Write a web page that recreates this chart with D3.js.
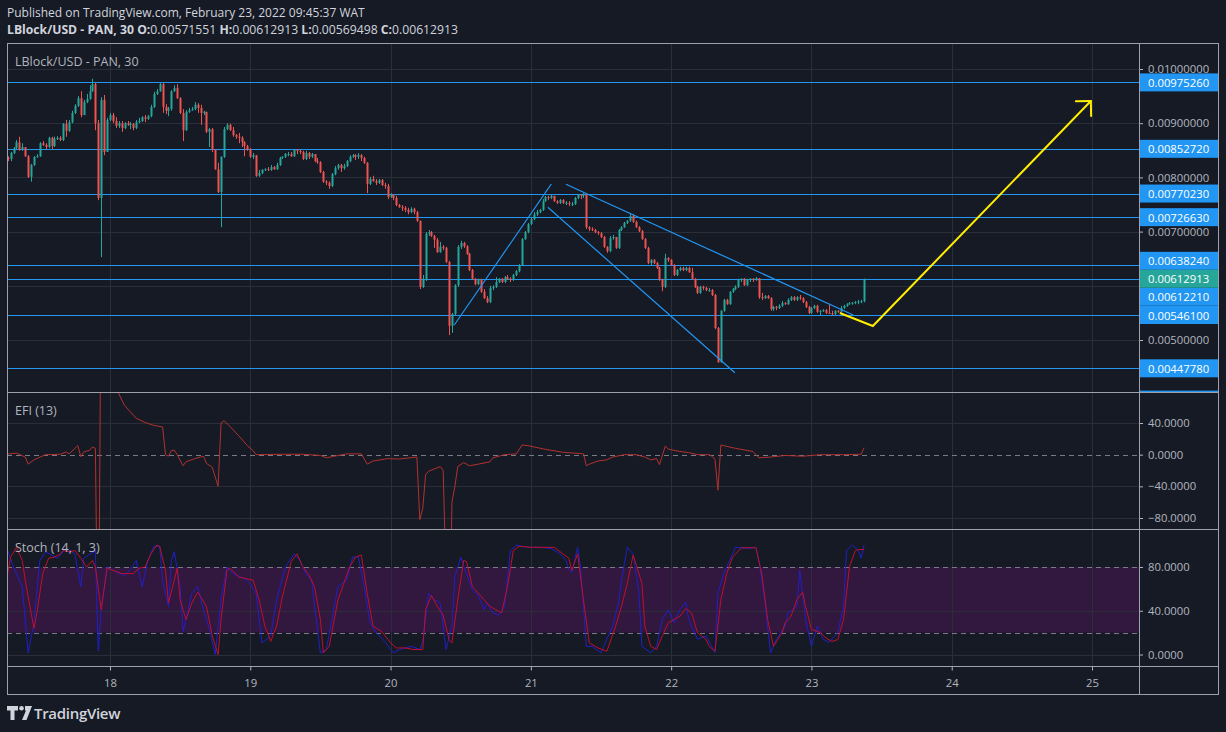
<!DOCTYPE html>
<html><head><meta charset="utf-8">
<script src="https://cdn.jsdelivr.net/npm/d3@7"></script>
<style>
html,body{margin:0;padding:0;background:#161a25;}
svg{display:block;}
text{font-family:"Open Sans","Noto Sans",sans-serif;}
</style></head><body>
<svg id="c" width="1226" height="732"></svg>
<script>
// ---------- DATA ----------
const candleStart = Date.UTC(2022, 1, 17, 6, 30); // first 30-min candle
const candleMinutes = 30;
const firstOpen = 0.00836;
const close = [
0.00834,0.00845,0.00854,0.00865,0.00851,0.00856,0.00839,0.00801,0.00823,0.00838,
0.00839,0.00863,0.00860,0.00856,0.00873,0.00858,0.00871,0.00873,0.00869,0.00899,
0.00886,0.00902,0.00919,0.00932,0.00946,0.00915,0.00939,0.00945,0.00959,0.00972,
0.00900,0.00762,0.00943,0.00847,0.00906,0.00915,0.00904,0.00895,0.00900,0.00891,
0.00900,0.00897,0.00899,0.00891,0.00902,0.00904,0.00911,0.00908,0.00913,0.00930,
0.00954,0.00959,0.00972,0.00930,0.00923,0.00926,0.00959,0.00965,0.00946,0.00919,
0.00887,0.00921,0.00924,0.00926,0.00934,0.00928,0.00919,0.00921,0.00884,0.00889,
0.00851,0.00815,0.00773,0.00838,0.00889,0.00897,0.00887,0.00878,0.00875,0.00873,
0.00865,0.00858,0.00852,0.00838,0.00841,0.00803,0.00808,0.00814,0.00815,0.00814,
0.00819,0.00815,0.00823,0.00836,0.00838,0.00843,0.00843,0.00839,0.00851,0.00849,
0.00847,0.00834,0.00845,0.00838,0.00843,0.00830,0.00828,0.00810,0.00792,0.00790,
0.00784,0.00806,0.00817,0.00823,0.00817,0.00821,0.00830,0.00838,0.00841,0.00838,
0.00841,0.00836,0.00827,0.00788,0.00797,0.00793,0.00790,0.00795,0.00786,0.00784,
0.00764,0.00768,0.00762,0.00749,0.00745,0.00744,0.00740,0.00736,0.00742,0.00736,
0.00720,0.00598,0.00611,0.00696,0.00699,0.00692,0.00685,0.00662,0.00672,0.00670,
0.00644,0.00526,0.00548,0.00601,0.00672,0.00679,0.00673,0.00659,0.00629,0.00613,
0.00603,0.00611,0.00589,0.00577,0.00570,0.00596,0.00598,0.00607,0.00613,0.00607,
0.00616,0.00613,0.00611,0.00620,0.00627,0.00638,0.00686,0.00699,0.00714,0.00723,
0.00732,0.00736,0.00740,0.00756,0.00764,0.00762,0.00766,0.00756,0.00753,0.00758,
0.00753,0.00753,0.00751,0.00751,0.00762,0.00768,0.00766,0.00769,0.00708,0.00705,
0.00703,0.00699,0.00697,0.00690,0.00672,0.00664,0.00688,0.00690,0.00670,0.00703,
0.00708,0.00716,0.00720,0.00729,0.00718,0.00708,0.00701,0.00686,0.00670,0.00642,
0.00648,0.00642,0.00633,0.00611,0.00598,0.00651,0.00648,0.00638,0.00620,0.00629,
0.00633,0.00629,0.00633,0.00625,0.00613,0.00598,0.00587,0.00598,0.00596,0.00592,
0.00592,0.00583,0.00522,0.00459,0.00554,0.00574,0.00566,0.00589,0.00594,0.00598,
0.00611,0.00613,0.00601,0.00611,0.00613,0.00611,0.00614,0.00579,0.00577,0.00581,
0.00577,0.00557,0.00561,0.00559,0.00563,0.00568,0.00566,0.00574,0.00579,0.00574,
0.00579,0.00577,0.00570,0.00561,0.00550,0.00559,0.00563,0.00552,0.00554,0.00555,
0.00550,0.00549,0.00548,0.00554,0.00552,0.00559,0.00563,0.00566,0.00568,0.00569,
0.00570,0.00571,0.00571551,0.00612913];
const high = [
0.00839,0.00847,0.00856,0.00869,0.00875,0.00863,0.00856,0.00841,0.00825,0.00839,
0.00843,0.00865,0.00867,0.00863,0.00875,0.00875,0.00875,0.00876,0.00876,0.00900,
0.00906,0.00906,0.00923,0.00935,0.00950,0.00959,0.00943,0.00954,0.00970,0.00982,
0.00974,0.00906,0.00948,0.00952,0.00910,0.00919,0.00919,0.00911,0.00904,0.00904,
0.00902,0.00904,0.00902,0.00900,0.00906,0.00910,0.00913,0.00915,0.00915,0.00934,
0.00958,0.00963,0.00974,0.00974,0.00935,0.00930,0.00961,0.00970,0.00972,0.00948,
0.00926,0.00924,0.00928,0.00930,0.00939,0.00937,0.00934,0.00923,0.00921,0.00891,
0.00891,0.00852,0.00827,0.00839,0.00893,0.00900,0.00899,0.00893,0.00880,0.00882,
0.00876,0.00867,0.00860,0.00854,0.00845,0.00841,0.00814,0.00815,0.00817,0.00819,
0.00823,0.00821,0.00827,0.00838,0.00839,0.00845,0.00847,0.00847,0.00852,0.00852,
0.00851,0.00849,0.00849,0.00847,0.00845,0.00843,0.00836,0.00830,0.00812,0.00795,
0.00793,0.00808,0.00821,0.00825,0.00825,0.00825,0.00832,0.00841,0.00843,0.00843,
0.00845,0.00843,0.00838,0.00828,0.00801,0.00803,0.00797,0.00797,0.00797,0.00790,
0.00788,0.00771,0.00769,0.00766,0.00751,0.00749,0.00747,0.00744,0.00745,0.00744,
0.00738,0.00720,0.00620,0.00699,0.00703,0.00701,0.00694,0.00688,0.00681,0.00675,
0.00672,0.00646,0.00550,0.00603,0.00675,0.00683,0.00681,0.00675,0.00661,0.00631,
0.00614,0.00613,0.00613,0.00594,0.00581,0.00600,0.00601,0.00616,0.00614,0.00614,
0.00618,0.00620,0.00616,0.00622,0.00629,0.00640,0.00688,0.00701,0.00716,0.00727,
0.00736,0.00740,0.00742,0.00760,0.00766,0.00766,0.00768,0.00766,0.00758,0.00760,
0.00760,0.00756,0.00756,0.00755,0.00764,0.00769,0.00768,0.00771,0.00769,0.00710,
0.00708,0.00705,0.00701,0.00699,0.00692,0.00673,0.00692,0.00694,0.00690,0.00705,
0.00710,0.00718,0.00721,0.00734,0.00732,0.00720,0.00710,0.00703,0.00688,0.00672,
0.00649,0.00649,0.00644,0.00635,0.00613,0.00659,0.00653,0.00649,0.00640,0.00631,
0.00635,0.00635,0.00635,0.00635,0.00633,0.00614,0.00600,0.00600,0.00600,0.00598,
0.00596,0.00594,0.00585,0.00524,0.00555,0.00576,0.00576,0.00590,0.00596,0.00601,
0.00613,0.00614,0.00614,0.00613,0.00614,0.00614,0.00616,0.00614,0.00587,0.00583,
0.00583,0.00579,0.00563,0.00563,0.00566,0.00572,0.00570,0.00577,0.00581,0.00581,
0.00581,0.00583,0.00579,0.00572,0.00563,0.00561,0.00565,0.00565,0.00555,0.00557,
0.00557,0.00565,0.00554,0.00555,0.00555,0.00563,0.00565,0.00568,0.00570,0.00570,
0.00572,0.00574,0.00574,0.00612913];
const low = [
0.00830,0.00830,0.00843,0.00852,0.00849,0.00849,0.00838,0.00799,0.00792,0.00821,
0.00836,0.00838,0.00858,0.00852,0.00854,0.00852,0.00856,0.00869,0.00867,0.00867,
0.00875,0.00884,0.00900,0.00917,0.00930,0.00911,0.00915,0.00937,0.00943,0.00958,
0.00887,0.00758,0.00653,0.00841,0.00847,0.00904,0.00900,0.00891,0.00891,0.00884,
0.00889,0.00895,0.00889,0.00887,0.00889,0.00900,0.00902,0.00902,0.00906,0.00911,
0.00928,0.00952,0.00958,0.00919,0.00917,0.00913,0.00923,0.00958,0.00945,0.00917,
0.00867,0.00886,0.00919,0.00923,0.00924,0.00919,0.00897,0.00915,0.00882,0.00856,
0.00847,0.00814,0.00771,0.00708,0.00836,0.00887,0.00886,0.00875,0.00871,0.00863,
0.00856,0.00839,0.00849,0.00836,0.00834,0.00801,0.00801,0.00806,0.00812,0.00812,
0.00812,0.00814,0.00814,0.00821,0.00834,0.00836,0.00839,0.00838,0.00838,0.00843,
0.00843,0.00832,0.00832,0.00834,0.00836,0.00828,0.00825,0.00808,0.00790,0.00786,
0.00779,0.00782,0.00804,0.00814,0.00810,0.00814,0.00819,0.00828,0.00836,0.00832,
0.00834,0.00830,0.00825,0.00771,0.00786,0.00792,0.00786,0.00788,0.00784,0.00779,
0.00760,0.00762,0.00758,0.00747,0.00744,0.00738,0.00736,0.00732,0.00734,0.00732,
0.00718,0.00594,0.00596,0.00609,0.00692,0.00690,0.00670,0.00661,0.00661,0.00666,
0.00642,0.00509,0.00513,0.00546,0.00598,0.00668,0.00670,0.00657,0.00627,0.00611,
0.00601,0.00601,0.00587,0.00576,0.00568,0.00568,0.00592,0.00596,0.00605,0.00605,
0.00605,0.00611,0.00607,0.00609,0.00618,0.00625,0.00637,0.00685,0.00697,0.00712,
0.00721,0.00729,0.00734,0.00738,0.00755,0.00758,0.00760,0.00755,0.00751,0.00751,
0.00751,0.00749,0.00747,0.00747,0.00749,0.00760,0.00760,0.00762,0.00705,0.00701,
0.00701,0.00697,0.00694,0.00688,0.00670,0.00661,0.00662,0.00685,0.00668,0.00668,
0.00701,0.00707,0.00714,0.00718,0.00716,0.00707,0.00699,0.00685,0.00668,0.00640,
0.00638,0.00640,0.00631,0.00609,0.00590,0.00596,0.00644,0.00637,0.00618,0.00618,
0.00627,0.00627,0.00627,0.00624,0.00611,0.00596,0.00585,0.00585,0.00592,0.00590,
0.00589,0.00581,0.00520,0.00458,0.00458,0.00552,0.00565,0.00565,0.00587,0.00592,
0.00596,0.00607,0.00600,0.00600,0.00607,0.00607,0.00609,0.00576,0.00574,0.00576,
0.00576,0.00554,0.00554,0.00555,0.00557,0.00561,0.00565,0.00565,0.00572,0.00572,
0.00572,0.00574,0.00568,0.00559,0.00548,0.00548,0.00557,0.00550,0.00546,0.00552,
0.00548,0.00548,0.00546,0.00546,0.00550,0.00550,0.00557,0.00561,0.00565,0.00565,
0.00566,0.00566,0.00568,0.00569498];

// horizontal support / resistance levels drawn on the chart
const levels = [0.0097526, 0.0085272, 0.0077023, 0.0072663, 0.0063824, 0.0061221, 0.0054610, 0.0044778, 0.0039000];
const lastPrice = 0.00612913;
const priceTicks = [0.010, 0.009, 0.008, 0.007, 0.006, 0.005];
const dayTicks = [18, 19, 20, 21, 22, 23, 24, 25];

// drawings [time, price]
const channelRise   = [["2022-02-20T10:54Z", 0.005277], ["2022-02-21T03:30Z", 0.007878]];
const channelTop    = [["2022-02-21T06:00Z", 0.007873], ["2022-02-23T07:09Z", 0.005461]];
const channelBottom = [["2022-02-21T02:54Z", 0.007448], ["2022-02-22T10:54Z", 0.004395]];
const arrowPath     = [["2022-02-23T04:51Z", 0.005498], ["2022-02-23T10:30Z", 0.005258], ["2022-02-24T23:48Z", 0.009410]];

// EFI(13): [candle index, value]
const efiTicks = [40, 0, -40, -80];
const efi = [[0,0.8],[3,2],[6,-3],[7,-12],[9,-6.5],[13,0],[18,0.5],[20,3.5],[21,1],[24,11.4],[25,-2.5],[26,3.5],[28,5.5],[29,9.7],[30,8],
[31,-300],[32,250],[33,190],[34,160],[35,135],[36,110],[37,92],[38,77],[40,62],[42,54],[44,46],[47,40.7],[50,37],[53,35],[54,0],[55,-2],[56,5],[57,5.7],[58,0],
[60,-14],[61,-9],[64,-5],[66,-3],[67,-2],[68,-11],[70,-16],[72,-40],[73,40],[74,43],[76,36],[79,24],[82,11.4],[84,5],[85,0],[94,0.5],[101,0.5],[107,-1],[109,-4],
[111,-2.5],[116,1],[121,1],[123,-12],[125,-8],[130,-5],[134,-5.5],[140,-3],[141,-82],[142,-68],[143,-25],[144,-21],[146,-18],[148,-15],[149,-20],[151,-300],[152,-60],
[153,-40],[154,-15],[156,-10],[158,-14],[161,-12],[165,-9],[166,-4],[170,0],[174,1],[176,12.2],[178,11.4],[184,6.7],[190,3],[196,1.4],[197,1],[198,-14],[199,-12],
[202,-8],[205,-6.5],[207,-3],[211,0],[215,0],[218,-3],[220,-6.5],[222,-5],[223,-12.6],[225,11],[226,7],[230,4],[233,2.6],[236,0],[240,0],[241,-2],[242,-6],[243,-45],
[244,12.2],[245,11.4],[249,8],[255,4],[257,-4],[261,-3],[266,-1],[272,-2],[278,0],[286,0],[292,0.5],[293,8.8]];

// Stoch(14,1,3): [candle index, value]
const stochTicks = [80, 40, 0];
const stochBand = [20, 80];
const stochK = [[0,95],[2,80],[5,62],[7,1.5],[9,29],[11,86],[13,94],[17,88],[20,97],[23,92],[25,62],[26,88],[30,95],[31,3],[32,42],[34,80],[36,77],[40,72],[42,78],
[44,86],[46,62],[48,86],[50,99],[52,99],[53,68],[55,44],[56,86],[57,94],[59,62],[60,21],[63,56],[65,62],[67,41],[69,23],[71,0],[73,50],[75,80],[77,74],[82,68],[85,56],
[87,10.6],[90,17],[92,50],[95,80],[98,92],[100,86],[102,74],[104,68],[105,44],[107,1.5],[109,4.5],[113,62],[116,68],[118,89],[120,89],[122,62],[124,29],[126,20],
[129,12],[131,4.5],[132,1.5],[134,4.5],[138,7.5],[141,4.5],[142,12],[144,56],[146,50],[148,47],[150,4.5],[152,26],[153,71],[155,89],[157,74],[159,59],[161,54],
[163,41],[164,47],[166,38],[168,36],[170,44],[172,95],[174,100],[178,98],[182,98],[186,97],[189,92],[191,86],[192,78],[193,75],[195,98],[196,80],[198,7.5],[200,7.5],
[203,1.5],[205,14],[207,26],[209,47],[210,68],[212,98],[214,92],[216,56],[217,7.5],[220,1.5],[222,7.5],[224,32],[226,41],[228,29],[230,41],[232,48],[233,32],[236,14],
[239,17],[242,1.5],[243,56],[245,74],[247,86],[249,98],[253,97],[256,98],[257,86],[259,50],[261,1.5],[263,14],[266,26],[267,38],[270,44],[271,77],[273,32],[275,7.5],
[277,26],[279,14],[281,11],[284,20],[286,44],[287,95],[289,100],[291,95],[292,88],[293,100]];
const stochD = [[0,74],[1,89],[3,98],[5,86],[6,68],[8,38],[9,24],[10,38],[12,74],[14,88],[16,89],[18,92],[19,95],[21,94],[23,95],[25,88],[27,80],[29,86],[30,80],
[32,41],[34,79],[36,77],[39,74],[43,74],[45,79],[47,80],[49,92],[51,100],[52,99],[54,77],[55,47],[57,68],[58,79],[59,50],[61,32],[63,47],[65,57],[66,53],[68,44],
[70,17],[72,0],[73,32],[75,77],[76,79],[79,71],[82,69],[84,68],[86,50],[88,26],[90,12],[92,26],[94,53],[96,74],[97,85],[99,92],[101,80],[103,73],[105,62],[107,32],
[108,1.5],[110,7.5],[113,50],[115,65],[117,80],[119,89],[121,91],[123,56],[125,26],[128,21],[131,10.6],[133,6],[136,6],[139,4.5],[142,4.5],[143,41],[145,54],[147,44],
[149,36],[151,13.6],[152,10.6],[154,50],[156,86],[157,85],[159,62],[161,56],[163,50],[165,44],[167,41],[169,38],[171,62],[173,95],[175,99],[179,98],[183,98],[187,98],
[190,92],[192,88],[193,77],[195,92],[197,50],[199,10.6],[202,6],[205,3],[208,26],[210,44],[212,65],[214,91],[217,65],[218,26],[220,7.5],[222,4.5],[224,17],[226,29],
[228,32],[230,35],[232,42],[234,38],[236,20],[239,13.6],[240,7.5],[242,3],[244,50],[246,74],[248,89],[251,97.6],[256,97.6],[258,74],[260,32],[262,7.5],[265,20],
[266,29],[268,35],[270,50],[272,57],[273,44],[275,23],[278,20],[280,15],[282,12],[284,13.6],[286,32],[288,80],[290,95],[291,96],[293,96]];

// ---------- LAYOUT ----------
const C = {bg:"#161a25", grid:"#2a2e39", border:"#9ea1aa", text:"#b2b5be", up:"#26a69a", down:"#ef5350",
           level:"#2196f3", yellow:"#ffee00", efi:"#b3322f", k:"#2020c8", d:"#c0102c", band:"#32173f", dash:"#787b86"};
const L = 7, R = 1139, AXR = 1219, T = 43, MB = 392.5, EB = 529.5, SB = 666.5, B = 695;

const svg = d3.select("#c");
svg.append("rect").attr("width",1226).attr("height",732).attr("fill",C.bg);

const x = d3.scaleUtc().domain([Date.UTC(2022,1,17,6,23), Date.UTC(2022,1,25,8,2)]).range([L, R]);
const y = d3.scaleLinear().domain([0.005, 0.010]).range([340, 69]);
const yE = d3.scaleLinear().domain([-80, 40]).range([518, 423]);
const yS = d3.scaleLinear().domain([0, 80]).range([654.5, 567]);
const tAt = i => new Date(candleStart + i * candleMinutes * 60000);

const defs = svg.append("defs");
function clip(id, x0, y0, x1, y1){ defs.append("clipPath").attr("id",id).append("rect").attr("x",x0).attr("y",y0).attr("width",x1-x0).attr("height",y1-y0); return `url(#${id})`; }
const cMain = clip("cm", L, T, R, MB), cEfi = clip("ce", L, MB+0.5, R, EB), cSto = clip("cs", L, EB+0.5, R, SB);
const cAxisMain = clip("cam", R, T, AXR, MB);

// stoch band
svg.append("rect").attr("x",L).attr("width",R-L).attr("y",yS(stochBand[1])).attr("height",yS(stochBand[0])-yS(stochBand[1])).attr("fill",C.band);

// grid
const grid = svg.append("g").attr("stroke", C.grid).attr("stroke-width",1);
dayTicks.forEach(d => { const xx = Math.round(x(new Date(Date.UTC(2022,1,d))))+0.5;
  grid.append("line").attr("x1",xx).attr("x2",xx).attr("y1",T).attr("y2",SB); });
priceTicks.forEach(p => { const yy = Math.round(y(p))+0.5;
  grid.append("line").attr("x1",L).attr("x2",R).attr("y1",yy).attr("y2",yy); });
[40,-40,-80].forEach(v => { const yy = Math.round(yE(v))+0.5;
  grid.append("line").attr("x1",L).attr("x2",R).attr("y1",yy).attr("y2",yy); });
[40,0].forEach(v => { const yy = Math.round(yS(v))+0.5;
  grid.append("line").attr("x1",L).attr("x2",R).attr("y1",yy).attr("y2",yy); });
stochBand.forEach(v => svg.append("line").attr("x1",L).attr("x2",R).attr("y1",Math.round(yS(v))+0.5).attr("y2",Math.round(yS(v))+0.5)
  .attr("stroke",C.dash).attr("stroke-dasharray","5,4"));
svg.append("line").attr("x1",L).attr("x2",R).attr("y1",Math.round(yE(0))+0.5).attr("y2",Math.round(yE(0))+0.5)
  .attr("stroke",C.dash).attr("stroke-dasharray","5,4");

// levels
const gMain = svg.append("g").attr("clip-path", cMain);
levels.forEach(p => { const yy = Math.round(y(p))+0.5;
  gMain.append("line").attr("x1",L).attr("x2",R).attr("y1",yy).attr("y2",yy).attr("stroke",C.level).attr("stroke-width",1.2); });

// candles
const open = close.map((c,i) => i === 0 ? firstOpen : close[i-1]);
const candles = close.map((c,i) => ({t:tAt(i), o:open[i], h:Math.max(high[i], open[i], c), l:Math.min(low[i], open[i], c), c}));
const gc = gMain.append("g");
gc.selectAll("line.w").data(candles).join("line")
  .attr("x1", d => Math.round(x(d.t))+0.5).attr("x2", d => Math.round(x(d.t))+0.5)
  .attr("y1", d => y(d.h)).attr("y2", d => y(d.l))
  .attr("stroke", d => d.c >= d.o ? C.up : C.down).attr("stroke-width",1);
gc.selectAll("rect").data(candles).join("rect")
  .attr("x", d => Math.round(x(d.t)) - 0.5).attr("width", 2)
  .attr("y", d => Math.min(y(d.o), y(d.c)))
  .attr("height", d => Math.max(1, Math.abs(y(d.o)-y(d.c))))
  .attr("fill", d => d.c >= d.o ? C.up : C.down);

// drawings
const line = d3.line().x(d => x(new Date(d[0]))).y(d => y(d[1]));
[channelRise, channelTop, channelBottom].forEach(s =>
  gMain.append("path").attr("d", line(s)).attr("fill","none").attr("stroke",C.level).attr("stroke-width",1.2));
gMain.append("path").attr("d", line(arrowPath)).attr("fill","none").attr("stroke",C.yellow).attr("stroke-width",2).attr("stroke-linejoin","miter");
{
  const a = arrowPath[arrowPath.length-2], b = arrowPath[arrowPath.length-1];
  const ax = x(new Date(a[0])), ay = y(a[1]), bx = x(new Date(b[0])), by = y(b[1]);
  const ang = Math.atan2(ay-by, ax-bx), len = 15;
  [Math.PI/4, -Math.PI/4].forEach(o => gMain.append("line").attr("x1",bx).attr("y1",by)
    .attr("x2", bx + len*Math.cos(ang+o)).attr("y2", by + len*Math.sin(ang+o))
    .attr("stroke",C.yellow).attr("stroke-width",2).attr("stroke-linecap","round"));
}

// EFI
const idxLine = (ys) => d3.line().x(d => x(tAt(d[0]))).y(d => ys(d[1]));
svg.append("g").attr("clip-path", cEfi).append("path").attr("d", idxLine(yE)(efi))
  .attr("fill","none").attr("stroke",C.efi).attr("stroke-width",1);
// Stoch
const gS = svg.append("g").attr("clip-path", cSto);
gS.append("path").attr("d", idxLine(yS)(stochK)).attr("fill","none").attr("stroke",C.k).attr("stroke-width",1);
gS.append("path").attr("d", idxLine(yS)(stochD)).attr("fill","none").attr("stroke",C.d).attr("stroke-width",1);

// ---------- AXES ----------
const FS = 11.3;
function styleAxis(g){
  g.select(".domain").remove();
  g.selectAll(".tick line").attr("stroke", C.text);
  g.selectAll(".tick text").attr("fill", C.text).style("font-family",'"Open Sans","Noto Sans",sans-serif').style("font-size", FS+"px");
}
// level labels (with collision resolution)
const LH = 18;
const labs = levels.map(p => ({p, y:y(p), fill:C.level}));
const cur = {p:lastPrice, y:y(lastPrice), fill:C.up};
let lim = cur.y - LH;
labs.filter(l => l.y <= cur.y).sort((a,b)=>b.y-a.y).forEach(l => { if (l.y > lim) l.y = lim; lim = l.y - LH; });
lim = cur.y + LH;
labs.filter(l => l.y > cur.y).sort((a,b)=>a.y-b.y).forEach(l => { if (l.y < lim) l.y = lim; lim = l.y + LH; });
const allLabs = labs.concat([cur]);

const pAxis = svg.append("g").attr("transform",`translate(${R},0)`)
  .call(d3.axisRight(y).tickValues(priceTicks).tickFormat(d3.format(".8f")).tickSize(4).tickPadding(5));
styleAxis(pAxis);
pAxis.selectAll(".tick").filter(p => allLabs.some(l => Math.abs(l.y - y(p)) < 12)).remove();

const gl = svg.append("g").attr("clip-path", cAxisMain);
allLabs.forEach(l => {
  gl.append("rect").attr("x",R).attr("y",l.y - LH/2).attr("width",AXR-R-1).attr("height",LH).attr("fill",l.fill);
  gl.append("text").attr("x",R+9).attr("y",l.y).attr("dominant-baseline","central")
    .attr("fill","#ffffff").style("font-size",FS+"px").text(d3.format(".8f")(l.p));
});

const eAxis = svg.append("g").attr("transform",`translate(${R},0)`)
  .call(d3.axisRight(yE).tickValues(efiTicks).tickFormat(d3.format(".4f")).tickSize(4).tickPadding(5));
styleAxis(eAxis);
const sAxis = svg.append("g").attr("transform",`translate(${R},0)`)
  .call(d3.axisRight(yS).tickValues(stochTicks).tickFormat(d3.format(".4f")).tickSize(4).tickPadding(5));
styleAxis(sAxis);

const tAxis = svg.append("g").attr("transform",`translate(0,${SB})`)
  .call(d3.axisBottom(x).tickValues(dayTicks.map(d => new Date(Date.UTC(2022,1,d)))).tickFormat(d3.utcFormat("%-d")).tickSize(4).tickPadding(8));
styleAxis(tAxis);

// frame
const fr = svg.append("g").attr("stroke", C.border).attr("stroke-width",1).attr("fill","none");
fr.append("rect").attr("x",L+0.5).attr("y",T+0.5).attr("width",AXR-L-1).attr("height",B-T-1);
fr.append("line").attr("x1",R+0.5).attr("x2",R+0.5).attr("y1",T).attr("y2",B);
[MB, EB, SB].forEach(v => fr.append("line").attr("x1",L).attr("x2",AXR).attr("y1",v).attr("y2",v));

// ---------- TEXT ----------
svg.append("text").attr("x",7).attr("y",12).attr("dominant-baseline","central").attr("fill","#d1d4dc")
  .style("font-size","12px").text("Published on TradingView.com, February 23, 2022 09:45:37 WAT");
const hdr = svg.append("text").attr("x",7).attr("y",29).attr("dominant-baseline","central").attr("fill","#d1d4dc").style("font-size","12.2px");
[["LBlock/USD - PAN, 30 ",true],["O:",true],["0.00571551 ",false],["H:",true],["0.00612913 ",false],["L:",true],["0.00569498 ",false],["C:",true],["0.00612913",false]]
  .forEach(([s,b]) => hdr.append("tspan").attr("font-weight", b ? 700 : 400).text(s));
[["LBlock/USD - PAN, 30",61],["EFI (13)",410],["Stoch (14, 1, 3)",547]].forEach(([s,yy]) =>
  svg.append("text").attr("x",15).attr("y",yy).attr("dominant-baseline","central").attr("fill",C.text).style("font-size","12.5px").text(s));

// TradingView logo
const lg = svg.append("g").attr("fill","#d1d4dc");
lg.append("path").attr("d","M7 706 h11 v4.5 h-3.5 v9.5 h-4 v-9.5 h-3.5 z");
lg.append("circle").attr("cx",21.5).attr("cy",708.3).attr("r",2.3);
lg.append("path").attr("d","M25 706 h7 l-5.5 14 h-4.5 l4 -9.5 h-1 z");
svg.append("text").attr("x",34).attr("y",713).attr("dominant-baseline","central").attr("fill","#d1d4dc")
  .style("font-size","15px").style("font-weight",600).style("letter-spacing","-0.3px").text("TradingView");
</script>
</body></html>
